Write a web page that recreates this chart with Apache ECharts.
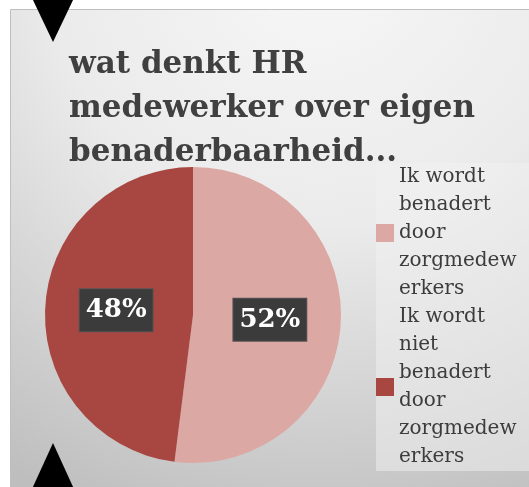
<!DOCTYPE html>
<html lang="nl">
<head>
    <meta charset="UTF-8">
    <title>benaderbaarheid</title>
    <script src="https://cdn.jsdelivr.net/npm/echarts@6/dist/echarts.min.js"></script>
    <style>
        html, body { margin: 0; padding: 0; background: #fff; }
        #chart { width: 529px; height: 487px; }
    </style>
</head>
<body>
    <div id="chart"></div>
    <script>
        // gegevens
        const categories = ['Ik wordt benadert door zorgmedewerkers', 'Ik wordt niet benadert door zorgmedewerkers'];
        const values = [52, 48];
        const legendLabels = ['Ik wordt\nbenadert\ndoor\nzorgmedew\nerkers', 'Ik wordt\nniet\nbenadert\ndoor\nzorgmedew\nerkers'];
        const colors = ['#dba8a3', '#a84641'];

        const chart = echarts.init(document.getElementById('chart'));

        const option = {
            backgroundColor: '#fff',
            title: {
                text: 'wat denkt HR\nmedewerker over eigen\nbenaderbaarheid...',
                left: 64,
                top: 38,
                textStyle: {
                    fontFamily: 'DejaVu Serif',
                    fontWeight: 'bold',
                    fontSize: 31,
                    lineHeight: 44,
                    color: '#404040'
                }
            },
            legend: {
                orient: 'vertical',
                left: 376,
                top: 163,
                padding: [0, 40, 0, 0],
                itemGap: 0,
                itemWidth: 18,
                itemHeight: 18,
                icon: 'rect',
                backgroundColor: 'rgba(242,242,242,0.5)',
                formatter: function (name) {
                    return legendLabels[categories.indexOf(name)];
                },
                textStyle: {
                    fontFamily: 'DejaVu Serif',
                    fontSize: 20,
                    lineHeight: 28,
                    color: '#3c3c3c'
                },
                data: categories
            },
            graphic: [
                {
                    type: 'rect',
                    z: -10,
                    shape: { x: 10.5, y: 9.5, width: 560, height: 520 },
                    style: {
                        fill: {
                            type: 'radial', x: 0.55, y: -0.1, r: 1.15,
                            colorStops: [
                                { offset: 0, color: '#f7f7f7' },
                                { offset: 0.45, color: '#ebebeb' },
                                { offset: 1, color: '#bebebe' }
                            ]
                        },
                        stroke: '#bfbfbf',
                        lineWidth: 1
                    }
                },
                {
                    type: 'polygon',
                    z: 100,
                    shape: { points: [[32, -2], [74, -2], [53, 42]] },
                    style: { fill: '#000' }
                },
                {
                    type: 'polygon',
                    z: 100,
                    shape: { points: [[32, 489], [74, 489], [53, 443]] },
                    style: { fill: '#000' }
                }
            ],
            series: [{
                type: 'pie',
                center: [193, 315],
                radius: 148,
                startAngle: 90,
                clockwise: true,
                avoidLabelOverlap: false,
                label: {
                    show: true,
                    position: 'inside',
                    formatter: '{d}%',
                    fontFamily: 'DejaVu Serif',
                    fontWeight: 'bold',
                    fontSize: 26,
                    color: '#fff',
                    backgroundColor: '#3b3b3b',
                    borderColor: '#555',
                    borderWidth: 1,
                    padding: [8, 6]
                },
                labelLine: { show: false },
                itemStyle: { borderWidth: 0 },
                emphasis: { disabled: true },
                data: categories.map((c, i) => ({
                    name: c,
                    value: values[i],
                    itemStyle: { color: colors[i] }
                }))
            }]
        };

        chart.setOption(option);
    </script>
</body>
</html>
